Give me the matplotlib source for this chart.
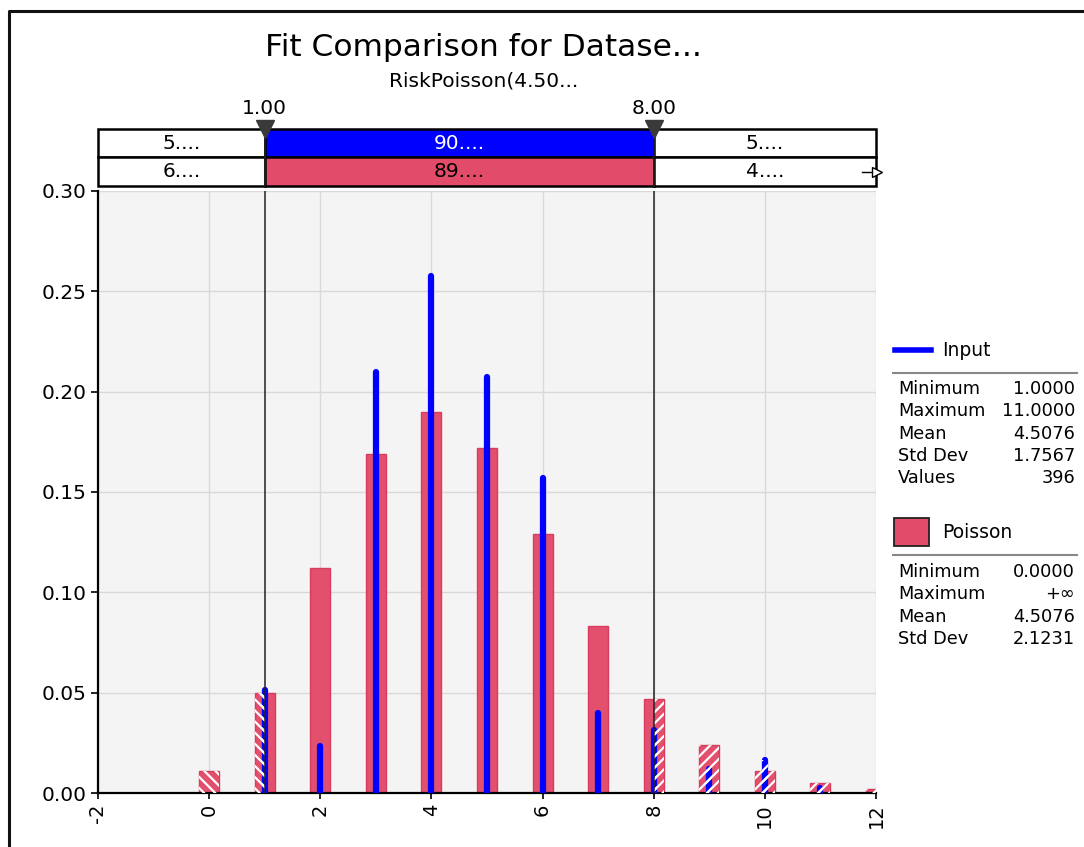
import matplotlib
matplotlib.use('Agg')
import matplotlib.pyplot as plt
from matplotlib.patches import Rectangle
from matplotlib.lines import Line2D
import numpy as np

# data
values = [0, 1, 2, 3, 4, 5, 6, 7, 8, 9, 10, 11, 12]
poisson_prob = [0.011, 0.050, 0.112, 0.169, 0.190, 0.172, 0.129, 0.083, 0.047, 0.024, 0.011, 0.005, 0.002]
input_values = [1, 2, 3, 4, 5, 6, 7, 8, 9, 10, 11]
input_prob = [0.0515, 0.0234, 0.2099, 0.2577, 0.2074, 0.157, 0.040, 0.0316, 0.012, 0.0165, 0.0025]

left_cut, right_cut = 1.0, 8.0
input_band = ["5....", "90....", "5...."]
poisson_band = ["6....", "89....", "4...."]

input_stats = [("Minimum", "1.0000"), ("Maximum", "11.0000"), ("Mean", "4.5076"),
               ("Std Dev", "1.7567"), ("Values", "396")]
poisson_stats = [("Minimum", "0.0000"), ("Maximum", "+\u221e"), ("Mean", "4.5076"),
                 ("Std Dev", "2.1231")]

RED = '#E24B69'
BLUE = '#0000FF'
W, H = 1084, 847

plt.rcParams['font.family'] = ['DejaVu Sans']
plt.rcParams['hatch.linewidth'] = 1.6
plt.rcParams['axes.unicode_minus'] = False

fig = plt.figure(figsize=(W / 100, H / 100), dpi=100)


def fx(px):
    return px / W


def fy(py):
    return 1 - py / H


ax = fig.add_axes([fx(98), fy(793), fx(876) - fx(98), fy(191) - fy(793)])
ax.set_facecolor('#F4F4F4')
ax.set_xlim(-2, 12)
ax.set_ylim(0, 0.30)
ax.set_xticks(np.arange(-2, 13, 2))
ax.set_yticks(np.arange(0, 0.301, 0.05))
ax.set_yticklabels(["%.2f" % v for v in np.arange(0, 0.301, 0.05)])
ax.tick_params(axis='x', labelrotation=90, labelsize=14, length=4, width=1.2)
ax.tick_params(axis='y', labelsize=14.5, length=5, width=1.2)
ax.grid(True, color='#D9D9D9', linewidth=1)
ax.set_axisbelow(True)
for s in ['top', 'right']:
    ax.spines[s].set_visible(False)
for s in ['left', 'bottom']:
    ax.spines[s].set_linewidth(1.6)

# poisson bars
ax.bar(values, poisson_prob, width=0.36, color=RED, edgecolor='#D83A5E', linewidth=1, zorder=2, alpha=0.97)
# input lines
ax.vlines(input_values, 0, input_prob, color=BLUE, linewidth=4.5, capstyle='round', zorder=3)

# white hatching outside the cut-offs
left_clip = Rectangle((-2, 0), left_cut + 2, 0.3, transform=ax.transData)
right_clip = Rectangle((right_cut, 0), 12 - right_cut, 0.3, transform=ax.transData)
for clip, hatch in [(left_clip, '\\\\\\'), (right_clip, '///')]:
    for bars in (ax.bar(values, poisson_prob, width=0.36, facecolor='none', edgecolor='white',
                        linewidth=0, hatch=hatch, zorder=4),
                 ax.bar(input_values, input_prob, width=0.11, facecolor='none', edgecolor='white',
                        linewidth=0, hatch=hatch, zorder=4)):
        for b in bars:
            b.set_clip_path(clip)

for c in (left_cut, right_cut):
    ax.axvline(c, color='#222222', linewidth=1.1, zorder=5)

# band of probabilities above plot
bx = fig.add_axes([fx(98), fy(186), fx(876) - fx(98), fy(129) - fy(186)], sharex=ax)
bx.set_ylim(0, 2)
bx.axis('off')
edges = [-2, left_cut, right_cut, 12]
for row, labels, mid_color, mid_text in [(1, input_band, BLUE, 'white'), (0, poisson_band, RED, 'black')]:
    for i in range(3):
        fc = mid_color if i == 1 else 'white'
        bx.add_patch(Rectangle((edges[i], row), edges[i + 1] - edges[i], 1, facecolor=fc,
                               edgecolor='black', linewidth=1.8, clip_on=False))
        bx.text((edges[i] + edges[i + 1]) / 2, row + 0.5, labels[i], ha='center', va='center',
                fontsize=14.5, color=mid_text if i == 1 else 'black')
for c in (left_cut, right_cut):
    bx.plot([c, c], [0, 2], color='#222222', linewidth=1.1, clip_on=False)
    bx.plot(c, 2.0, marker='v', markersize=13, color='#3A3A3A', clip_on=False, zorder=6)
    bx.text(c, 2.4, "%.2f" % c, ha='center', va='bottom', fontsize=14.5)
bx.plot([11.75, 12.05], [0.5, 0.5], color='black', linewidth=1, clip_on=False)
bx.plot(12.02, 0.5, marker='>', markersize=7, markerfacecolor='white', markeredgecolor='black',
        clip_on=False)

# titles
fig.text(fx(483), fy(47), "Fit Comparison for Datase...", ha='center', va='center', fontsize=22.5)
fig.text(fx(484), fy(81), "RiskPoisson(4.50...", ha='center', va='center', fontsize=14.5)

# legend panel on the right
fig.add_artist(Line2D([fx(895), fx(931)], [fy(350), fy(350)], color=BLUE, linewidth=4))
fig.text(fx(942), fy(350), "Input", va='center', fontsize=13.5)
fig.add_artist(Line2D([fx(893), fx(1077)], [fy(373), fy(373)], color='#888888', linewidth=1.5))
for i, (k, v) in enumerate(input_stats):
    y = fy(389 + i * 22.3)
    fig.text(fx(898), y, k, va='center', fontsize=12.8)
    fig.text(fx(1075), y, v, va='center', ha='right', fontsize=12.8)

fig.add_artist(Rectangle((fx(894), fy(546)), fx(929) - fx(894), fy(518) - fy(546), facecolor=RED,
                         edgecolor='#222222', linewidth=1.3))
fig.text(fx(942), fy(532), "Poisson", va='center', fontsize=13.5)
fig.add_artist(Line2D([fx(893), fx(1077)], [fy(555), fy(555)], color='#888888', linewidth=1.5))
for i, (k, v) in enumerate(poisson_stats):
    y = fy(572 + i * 22.3)
    fig.text(fx(898), y, k, va='center', fontsize=12.8)
    fig.text(fx(1075), y, v, va='center', ha='right', fontsize=12.8)

# outer frame
fig.add_artist(Line2D([fx(8.5), fx(8.5), fx(1084)], [0, fy(11.5), fy(11.5)], color='#111111', linewidth=2.2))

plt.savefig("out.png", dpi=100)
plt.close(fig)
